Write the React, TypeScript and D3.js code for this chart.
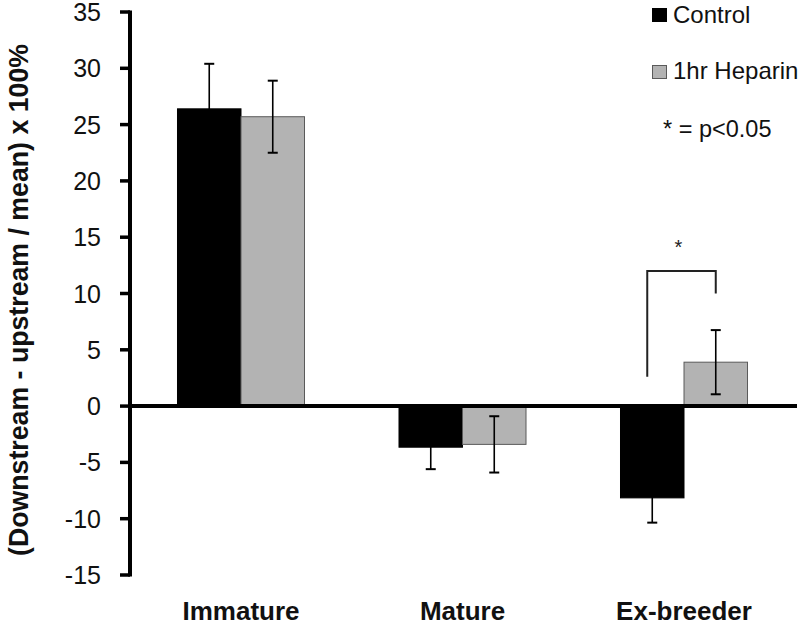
import React from "react";
import * as d3 from "d3";

const categories = ["Immature", "Mature", "Ex-breeder"];
const seriesNames = ["Control", "1hr Heparin"];
const controlValues = [26.4, -3.65, -8.15];
const controlErrors = [4.0, 1.95, 2.2];
const heparinValues = [25.7, -3.4, 3.9];
const heparinErrors = [3.2, 2.5, 2.85];
const yTicks = [35, 30, 25, 20, 15, 10, 5, 0, -5, -10, -15];
const yDomain = [-15, 35];
// significance bracket (Ex-breeder): top, left end, right end in data units
const sigCategory = "Ex-breeder";
const sigTop = 12;
const sigLeftEnd = 2.6;
const sigRightEnd = 10;
const sigStarLevel = 13.5;

const W = 800;
const H = 626;
const FONT = "'Liberation Sans', Arial, sans-serif";

export default function App() {
  const x = d3
    .scaleBand<string>()
    .domain(categories)
    .range([130, 795])
    .paddingInner(0.4266)
    .paddingOuter(0.2144);
  const sub = d3
    .scaleBand<string>()
    .domain(seriesNames)
    .range([0, x.bandwidth()])
    .padding(0);
  const y = d3.scaleLinear().domain(yDomain).range([575, 12]);
  const bw = sub.bandwidth();

  const series = [
    { name: seriesNames[0], values: controlValues, errors: controlErrors, fill: "#000000", stroke: "#000000" },
    { name: seriesNames[1], values: heparinValues, errors: heparinErrors, fill: "#b3b3b3", stroke: "#5a5a5a" },
  ];

  const sx0 = (x(sigCategory) as number) + sub(seriesNames[0])! + bw / 2 - 5;
  const sx1 = (x(sigCategory) as number) + sub(seriesNames[1])! + bw / 2;

  return (
    <svg width={W} height={H} style={{ display: "block", position: "absolute", left: 0, top: 0 }} fontFamily={FONT}>
      <rect width={W} height={H} fill="#ffffff" />
      {/* bars */}
      {series.map((s) =>
        categories.map((c, i) => {
          const v = s.values[i];
          const x0 = (x(c) as number) + sub(s.name)!;
          const top = y(Math.max(0, v));
          const bot = y(Math.min(0, v));
          return (
            <rect
              key={s.name + c}
              x={x0}
              y={top}
              width={bw}
              height={bot - top}
              fill={s.fill}
              stroke={s.stroke}
              strokeWidth={1}
            />
          );
        })
      )}
      {/* error bars */}
      {series.map((s) =>
        categories.map((c, i) => {
          const v = s.values[i];
          const e = s.errors[i];
          const cx = (x(c) as number) + sub(s.name)! + bw / 2;
          const y1 = y(v + e);
          const y2 = y(v - e);
          return (
            <g key={"e" + s.name + c} stroke="#000" fill="none">
              <line x1={cx} x2={cx} y1={y1} y2={y2} strokeWidth={1.6} />
              <line x1={cx - 5} x2={cx + 5} y1={y1} y2={y1} strokeWidth={2} />
              <line x1={cx - 5} x2={cx + 5} y1={y2} y2={y2} strokeWidth={2} />
            </g>
          );
        })
      )}
      {/* zero line */}
      <line x1={130} x2={797} y1={y(0)} y2={y(0)} stroke="#000" strokeWidth={4} />
      {/* y axis */}
      <line x1={130} x2={130} y1={y(35) - 1.5} y2={y(-15) + 1.5} stroke="#000" strokeWidth={4} />
      {yTicks.map((t) => (
        <g key={t}>
          <line x1={120} x2={130} y1={y(t)} y2={y(t)} stroke="#000" strokeWidth={3.5} />
          <text x={101} y={y(t)} dy="0.36em" textAnchor="end" fontSize={25} fill="#111">
            {t}
          </text>
        </g>
      ))}
      {/* y title */}
      <text
        transform={`translate(28,300) rotate(-90)`}
        textAnchor="middle"
        fontSize={27}
        fontWeight="bold"
        fill="#111"
        textLength={512}
        lengthAdjust="spacingAndGlyphs"
      >
        (Downstream - upstream / mean) x 100%
      </text>
      {/* category labels */}
      {categories.map((c) => (
        <text
          key={c}
          x={(x(c) as number) + x.bandwidth() / 2}
          y={620}
          textAnchor="middle"
          fontSize={26}
          fontWeight="bold"
          fill="#111"
        >
          {c}
        </text>
      ))}
      {/* significance bracket */}
      <path
        d={`M${sx0},${y(sigLeftEnd)} V${y(sigTop)} H${sx1} V${y(sigRightEnd)}`}
        fill="none"
        stroke="#222"
        strokeWidth={2}
      />
      <text x={(sx0 + sx1) / 2 - 3} y={y(sigStarLevel)} textAnchor="middle" fontSize={20} fill="#222">
        *
      </text>
      {/* legend */}
      <rect x={652.5} y={8.5} width={14} height={13} fill="#000" stroke="#000" />
      <text x={673} y={23} fontSize={24} fill="#111">
        {seriesNames[0]}
      </text>
      <rect x={652.5} y={65.5} width={14} height={13} fill="#b3b3b3" stroke="#5a5a5a" />
      <text x={673} y={79} fontSize={24} fill="#111">
        {seriesNames[1]}
      </text>
      <text x={663} y={137} fontSize={23.5} fill="#111">
        * = p&lt;0.05
      </text>
    </svg>
  );
}
